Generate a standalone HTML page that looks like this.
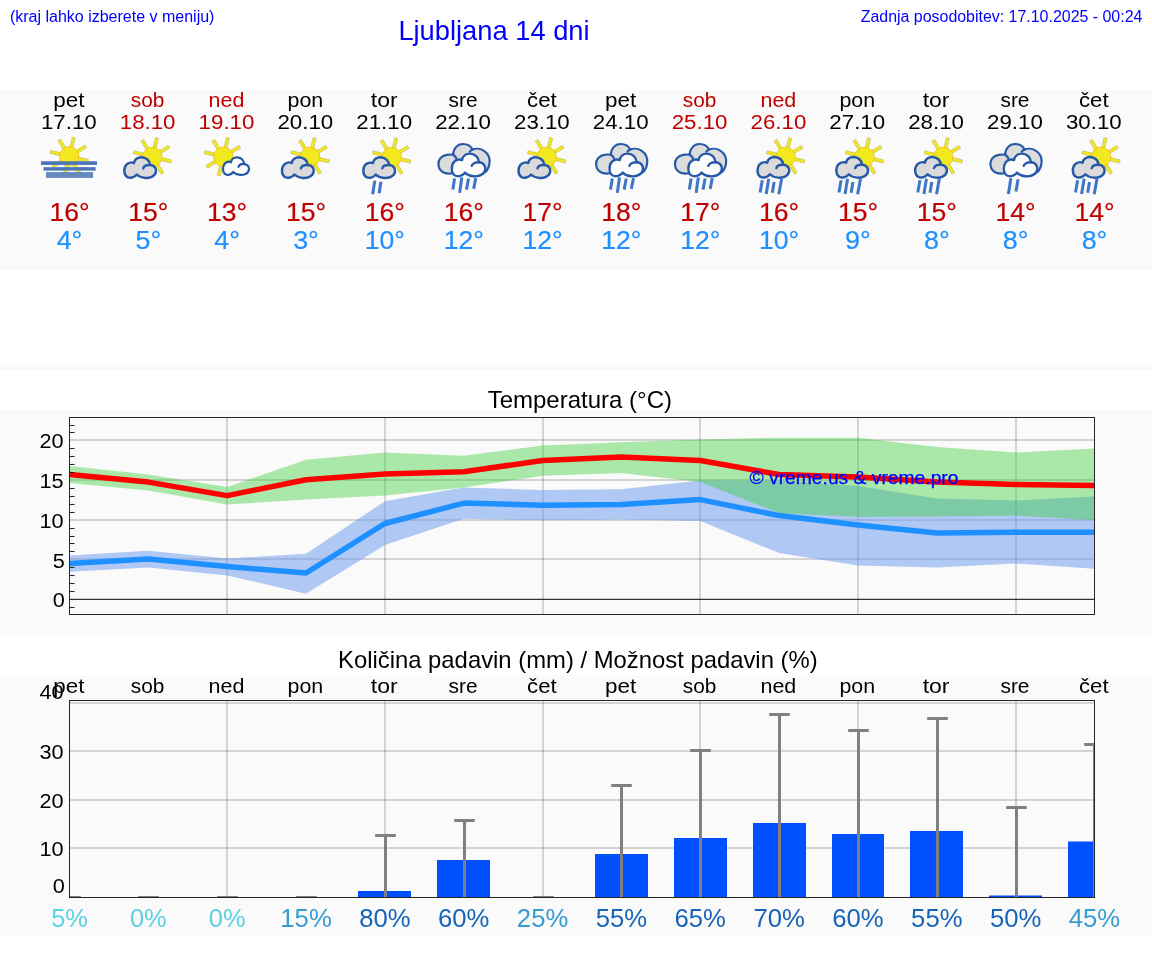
<!DOCTYPE html>
<html lang="sl"><head><meta charset="utf-8"><title>Ljubljana 14 dni</title>
<style>html,body{margin:0;padding:0;background:#fff}body{width:1152px;height:975px;overflow:hidden;font-family:"Liberation Sans",sans-serif}svg{display:block;position:absolute;left:0;top:0;will-change:transform}text{font-family:"Liberation Sans",sans-serif}.dv{font-size:19.3px}.t25{font-size:25.2px;stroke-width:.2px}.mid{text-anchor:middle}.end{text-anchor:end}</style></head><body>
<svg width="1152" height="975" viewBox="0 0 1152 975">
<defs>
<g id="i-fog"><g transform="scale(0.069444) translate(-568.80,0)"><g transform="translate(565,380)"><rect x="-23.0" y="-279.4" width="46.1" height="157.0" fill="#f1e91d" stroke="#a9a46a" stroke-width="6" transform="rotate(13.7)"/><rect x="-23.0" y="-279.4" width="46.1" height="157.0" fill="#f1e91d" stroke="#a9a46a" stroke-width="6" transform="rotate(58.7)"/><rect x="-23.0" y="-279.4" width="46.1" height="157.0" fill="#f1e91d" stroke="#a9a46a" stroke-width="6" transform="rotate(103.7)"/><rect x="-23.0" y="-279.4" width="46.1" height="157.0" fill="#f1e91d" stroke="#a9a46a" stroke-width="6" transform="rotate(148.7)"/><rect x="-23.0" y="-279.4" width="46.1" height="157.0" fill="#f1e91d" stroke="#a9a46a" stroke-width="6" transform="rotate(193.7)"/><rect x="-23.0" y="-279.4" width="46.1" height="157.0" fill="#f1e91d" stroke="#a9a46a" stroke-width="6" transform="rotate(238.7)"/><rect x="-23.0" y="-279.4" width="46.1" height="157.0" fill="#f1e91d" stroke="#a9a46a" stroke-width="6" transform="rotate(283.7)"/><rect x="-23.0" y="-279.4" width="46.1" height="157.0" fill="#f1e91d" stroke="#a9a46a" stroke-width="6" transform="rotate(328.7)"/><circle r="140.9" fill="#f1e91d" stroke="#f6ab25" stroke-width="9"/></g><rect x="158" y="450" width="807" height="53" fill="#4b77b9"/><rect x="195" y="535" width="750" height="50" fill="#4b77b9"/><rect x="236" y="612" width="668" height="72" fill="#6489bd" stroke="#4b77b9" stroke-width="9"/></g></g>
<g id="i-suncloud"><g transform="scale(0.069444) translate(-552.18,0)"><g transform="translate(610,386)"><rect x="-23.0" y="-279.4" width="46.1" height="157.0" fill="#f1e91d" stroke="#a9a46a" stroke-width="6" transform="rotate(13.7)"/><rect x="-23.0" y="-279.4" width="46.1" height="157.0" fill="#f1e91d" stroke="#a9a46a" stroke-width="6" transform="rotate(58.7)"/><rect x="-23.0" y="-279.4" width="46.1" height="157.0" fill="#f1e91d" stroke="#a9a46a" stroke-width="6" transform="rotate(103.7)"/><rect x="-23.0" y="-279.4" width="46.1" height="157.0" fill="#f1e91d" stroke="#a9a46a" stroke-width="6" transform="rotate(148.7)"/><rect x="-23.0" y="-279.4" width="46.1" height="157.0" fill="#f1e91d" stroke="#a9a46a" stroke-width="6" transform="rotate(193.7)"/><rect x="-23.0" y="-279.4" width="46.1" height="157.0" fill="#f1e91d" stroke="#a9a46a" stroke-width="6" transform="rotate(238.7)"/><rect x="-23.0" y="-279.4" width="46.1" height="157.0" fill="#f1e91d" stroke="#a9a46a" stroke-width="6" transform="rotate(283.7)"/><rect x="-23.0" y="-279.4" width="46.1" height="157.0" fill="#f1e91d" stroke="#a9a46a" stroke-width="6" transform="rotate(328.7)"/><circle r="140.9" fill="#f1e91d" stroke="#f6ab25" stroke-width="9"/></g><g transform="translate(190,370) scale(1,1) translate(-190,-370)"><path d="M 578,505 C 648,508 668,565 662,602 C 650,672 565,695 505,690 C 452,686 410,666 385,641 C 350,688 290,698 250,679 C 194,650 194,540 237,499 C 270,468 320,463 346,476 C 350,424 400,392 452,392 C 522,392 573,442 578,505 Z" fill="#dadada" stroke="#2559a8" stroke-width="35" stroke-linejoin="round"/><path d="M 478,552 C 488,522 532,502 578,505" fill="none" stroke="#2559a8" stroke-width="35" stroke-linecap="round"/></g></g></g>
<g id="i-sunsmall"><g transform="scale(0.069444) translate(-535.57,0)"><g transform="translate(480,385)"><rect x="-23.0" y="-279.4" width="46.1" height="157.0" fill="#f1e91d" stroke="#a9a46a" stroke-width="6" transform="rotate(13.7)"/><rect x="-23.0" y="-279.4" width="46.1" height="157.0" fill="#f1e91d" stroke="#a9a46a" stroke-width="6" transform="rotate(58.7)"/><rect x="-23.0" y="-279.4" width="46.1" height="157.0" fill="#f1e91d" stroke="#a9a46a" stroke-width="6" transform="rotate(103.7)"/><rect x="-23.0" y="-279.4" width="46.1" height="157.0" fill="#f1e91d" stroke="#a9a46a" stroke-width="6" transform="rotate(148.7)"/><rect x="-23.0" y="-279.4" width="46.1" height="157.0" fill="#f1e91d" stroke="#a9a46a" stroke-width="6" transform="rotate(193.7)"/><rect x="-23.0" y="-279.4" width="46.1" height="157.0" fill="#f1e91d" stroke="#a9a46a" stroke-width="6" transform="rotate(238.7)"/><rect x="-23.0" y="-279.4" width="46.1" height="157.0" fill="#f1e91d" stroke="#a9a46a" stroke-width="6" transform="rotate(283.7)"/><rect x="-23.0" y="-279.4" width="46.1" height="157.0" fill="#f1e91d" stroke="#a9a46a" stroke-width="6" transform="rotate(328.7)"/><circle r="140.9" fill="#f1e91d" stroke="#f6ab25" stroke-width="9"/></g><g transform="translate(462,375) scale(0.82,0.85) translate(-190,-370)"><path d="M 578,505 C 648,508 668,565 662,602 C 650,672 565,695 505,690 C 452,686 410,666 385,641 C 350,688 290,698 250,679 C 194,650 194,540 237,499 C 270,468 320,463 346,476 C 350,424 400,392 452,392 C 522,392 573,442 578,505 Z" fill="#fdfdfd" stroke="#2559a8" stroke-width="38" stroke-linejoin="round"/><path d="M 478,552 C 488,522 532,502 578,505" fill="none" stroke="#2559a8" stroke-width="38" stroke-linecap="round"/></g></g></g>
<g id="i-sunrain2"><g transform="scale(0.071813) translate(-555.39,0)"><g transform="translate(650,376)"><rect x="-22.3" y="-270.1" width="44.6" height="151.8" fill="#f1e91d" stroke="#a9a46a" stroke-width="6" transform="rotate(13.7)"/><rect x="-22.3" y="-270.1" width="44.6" height="151.8" fill="#f1e91d" stroke="#a9a46a" stroke-width="6" transform="rotate(58.7)"/><rect x="-22.3" y="-270.1" width="44.6" height="151.8" fill="#f1e91d" stroke="#a9a46a" stroke-width="6" transform="rotate(103.7)"/><rect x="-22.3" y="-270.1" width="44.6" height="151.8" fill="#f1e91d" stroke="#a9a46a" stroke-width="6" transform="rotate(148.7)"/><rect x="-22.3" y="-270.1" width="44.6" height="151.8" fill="#f1e91d" stroke="#a9a46a" stroke-width="6" transform="rotate(193.7)"/><rect x="-22.3" y="-270.1" width="44.6" height="151.8" fill="#f1e91d" stroke="#a9a46a" stroke-width="6" transform="rotate(238.7)"/><rect x="-22.3" y="-270.1" width="44.6" height="151.8" fill="#f1e91d" stroke="#a9a46a" stroke-width="6" transform="rotate(283.7)"/><rect x="-22.3" y="-270.1" width="44.6" height="151.8" fill="#f1e91d" stroke="#a9a46a" stroke-width="6" transform="rotate(328.7)"/><circle r="136.1" fill="#f1e91d" stroke="#f6ab25" stroke-width="9"/></g><g transform="translate(240,358) scale(0.967,0.967) translate(-190,-370)"><path d="M 578,505 C 648,508 668,565 662,602 C 650,672 565,695 505,690 C 452,686 410,666 385,641 C 350,688 290,698 250,679 C 194,650 194,540 237,499 C 270,468 320,463 346,476 C 350,424 400,392 452,392 C 522,392 573,442 578,505 Z" fill="#dadada" stroke="#2559a8" stroke-width="35" stroke-linejoin="round"/><path d="M 478,552 C 488,522 532,502 578,505" fill="none" stroke="#2559a8" stroke-width="35" stroke-linecap="round"/></g><line x1="415" y1="705" x2="385" y2="895" stroke="#3f76c6" stroke-width="42"/><line x1="500" y1="720" x2="475" y2="880" stroke="#3f76c6" stroke-width="42"/></g></g>
<g id="i-sunrain4"><g transform="scale(0.071813) translate(-544.68,0)"><g transform="translate(635,374)"><rect x="-22.3" y="-270.1" width="44.6" height="151.8" fill="#f1e91d" stroke="#a9a46a" stroke-width="6" transform="rotate(13.7)"/><rect x="-22.3" y="-270.1" width="44.6" height="151.8" fill="#f1e91d" stroke="#a9a46a" stroke-width="6" transform="rotate(58.7)"/><rect x="-22.3" y="-270.1" width="44.6" height="151.8" fill="#f1e91d" stroke="#a9a46a" stroke-width="6" transform="rotate(103.7)"/><rect x="-22.3" y="-270.1" width="44.6" height="151.8" fill="#f1e91d" stroke="#a9a46a" stroke-width="6" transform="rotate(148.7)"/><rect x="-22.3" y="-270.1" width="44.6" height="151.8" fill="#f1e91d" stroke="#a9a46a" stroke-width="6" transform="rotate(193.7)"/><rect x="-22.3" y="-270.1" width="44.6" height="151.8" fill="#f1e91d" stroke="#a9a46a" stroke-width="6" transform="rotate(238.7)"/><rect x="-22.3" y="-270.1" width="44.6" height="151.8" fill="#f1e91d" stroke="#a9a46a" stroke-width="6" transform="rotate(283.7)"/><rect x="-22.3" y="-270.1" width="44.6" height="151.8" fill="#f1e91d" stroke="#a9a46a" stroke-width="6" transform="rotate(328.7)"/><circle r="136.1" fill="#f1e91d" stroke="#f6ab25" stroke-width="9"/></g><g transform="translate(228,354) scale(0.967,0.967) translate(-190,-370)"><path d="M 578,505 C 648,508 668,565 662,602 C 650,672 565,695 505,690 C 452,686 410,666 385,641 C 350,688 290,698 250,679 C 194,650 194,540 237,499 C 270,468 320,463 346,476 C 350,424 400,392 452,392 C 522,392 573,442 578,505 Z" fill="#dadada" stroke="#2559a8" stroke-width="35" stroke-linejoin="round"/><path d="M 478,552 C 488,522 532,502 578,505" fill="none" stroke="#2559a8" stroke-width="35" stroke-linecap="round"/></g><line x1="310" y1="700" x2="280" y2="870" stroke="#3f76c6" stroke-width="42"/><line x1="400" y1="680" x2="365" y2="890" stroke="#3f76c6" stroke-width="42"/><line x1="475" y1="725" x2="450" y2="875" stroke="#3f76c6" stroke-width="42"/><line x1="580" y1="680" x2="540" y2="895" stroke="#3f76c6" stroke-width="42"/></g></g>
<g id="i-clouds4"><g transform="scale(0.071813) translate(-567.18,0)"><path d="M 420,345 C 420,260 480,195 555,195 C 620,195 670,230 690,272 C 730,255 800,255 850,290 C 910,330 935,400 925,470 C 915,550 870,600 800,612 L 450,596 C 380,612 300,610 255,570 C 205,525 200,440 245,390 C 290,345 370,335 420,345 Z" fill="#dcdcdc" stroke="#2559a8" stroke-width="30" stroke-linejoin="round"/><path d="M 420,345 C 445,360 462,380 468,405 M 690,272 C 672,278 660,288 652,300" fill="none" stroke="#2559a8" stroke-width="30" stroke-linecap="round"/><g transform="translate(385,306) scale(1.02,1.06) translate(-190,-370)"><path d="M 578,505 C 648,508 668,565 662,602 C 650,672 565,695 505,690 C 452,686 410,666 385,641 C 350,688 290,698 250,679 C 194,650 194,540 237,499 C 270,468 320,463 346,476 C 350,424 400,392 452,392 C 522,392 573,442 578,505 Z" fill="#fdfdfd" stroke="#2559a8" stroke-width="32" stroke-linejoin="round"/><path d="M 478,552 C 488,522 532,502 578,505" fill="none" stroke="#2559a8" stroke-width="32" stroke-linecap="round"/></g><line x1="440" y1="675" x2="415" y2="830" stroke="#3f76c6" stroke-width="42"/><line x1="540" y1="660" x2="510" y2="875" stroke="#3f76c6" stroke-width="42"/><line x1="635" y1="675" x2="605" y2="830" stroke="#3f76c6" stroke-width="42"/><line x1="735" y1="670" x2="705" y2="820" stroke="#3f76c6" stroke-width="42"/></g></g>
<g id="i-clouds2"><g transform="scale(0.071813) translate(-566.10,0)"><path d="M 420,345 C 420,260 480,195 555,195 C 620,195 670,230 690,272 C 730,255 800,255 850,290 C 910,330 935,400 925,470 C 915,550 870,600 800,612 L 450,596 C 380,612 300,610 255,570 C 205,525 200,440 245,390 C 290,345 370,335 420,345 Z" fill="#dcdcdc" stroke="#2559a8" stroke-width="30" stroke-linejoin="round"/><path d="M 420,345 C 445,360 462,380 468,405 M 690,272 C 672,278 660,288 652,300" fill="none" stroke="#2559a8" stroke-width="30" stroke-linecap="round"/><g transform="translate(385,306) scale(1.02,1.06) translate(-190,-370)"><path d="M 578,505 C 648,508 668,565 662,602 C 650,672 565,695 505,690 C 452,686 410,666 385,641 C 350,688 290,698 250,679 C 194,650 194,540 237,499 C 270,468 320,463 346,476 C 350,424 400,392 452,392 C 522,392 573,442 578,505 Z" fill="#fdfdfd" stroke="#2559a8" stroke-width="32" stroke-linejoin="round"/><path d="M 478,552 C 488,522 532,502 578,505" fill="none" stroke="#2559a8" stroke-width="32" stroke-linecap="round"/></g><line x1="500" y1="670" x2="465" y2="890" stroke="#3f76c6" stroke-width="42"/><line x1="600" y1="685" x2="570" y2="855" stroke="#3f76c6" stroke-width="42"/></g></g>
</defs>
<rect x="0" y="90" width="1152" height="180" fill="#fafafa"/>
<rect x="0" y="365" width="1152" height="5" fill="#fafafa"/>
<rect x="0" y="410" width="1152" height="225" fill="#fafafa"/>
<rect x="0" y="675" width="1152" height="260" fill="#fafafa"/>
<text x="9.9" y="21.7" font-size="16" fill="#0000ff">(kraj lahko izberete v meniju)</text>
<text x="494" y="39.6" font-size="27.3" fill="#0000ff" class="mid">Ljubljana 14 dni</text>
<text x="1142.4" y="21.7" font-size="16" fill="#0000ff" class="end" textLength="281.7" lengthAdjust="spacingAndGlyphs">Zadnja posodobitev: 17.10.2025 - 00:24</text>
<text x="68.80" y="106.60" class="dv mid" fill="#000" textLength="31.20" lengthAdjust="spacingAndGlyphs" >pet</text>
<text x="68.80" y="128.90" class="dv mid" fill="#000" textLength="55.75" lengthAdjust="spacingAndGlyphs" >17.10</text>
<use href="#i-fog" x="69.50" y="130"/>
<text x="69.50" y="220.90" class="t25 mid" fill="#c00000" stroke="#c00000" textLength="40.10" lengthAdjust="spacingAndGlyphs" >16°</text>
<text x="69.50" y="248.80" class="t25 mid" fill="#1e90ff" stroke="#1e90ff" textLength="25.71" lengthAdjust="spacingAndGlyphs" >4°</text>
<text x="147.65" y="106.60" class="dv mid" fill="#c00000" textLength="33.58" lengthAdjust="spacingAndGlyphs" >sob</text>
<text x="147.65" y="128.90" class="dv mid" fill="#c00000" textLength="55.75" lengthAdjust="spacingAndGlyphs" >18.10</text>
<use href="#i-suncloud" x="148.35" y="130"/>
<text x="148.35" y="220.90" class="t25 mid" fill="#c00000" stroke="#c00000" textLength="40.10" lengthAdjust="spacingAndGlyphs" >15°</text>
<text x="148.35" y="248.80" class="t25 mid" fill="#1e90ff" stroke="#1e90ff" textLength="25.71" lengthAdjust="spacingAndGlyphs" >5°</text>
<text x="226.49" y="106.60" class="dv mid" fill="#c00000" textLength="35.79" lengthAdjust="spacingAndGlyphs" >ned</text>
<text x="226.49" y="128.90" class="dv mid" fill="#c00000" textLength="55.75" lengthAdjust="spacingAndGlyphs" >19.10</text>
<use href="#i-sunsmall" x="227.19" y="130"/>
<text x="227.19" y="220.90" class="t25 mid" fill="#c00000" stroke="#c00000" textLength="40.10" lengthAdjust="spacingAndGlyphs" >13°</text>
<text x="227.19" y="248.80" class="t25 mid" fill="#1e90ff" stroke="#1e90ff" textLength="25.71" lengthAdjust="spacingAndGlyphs" >4°</text>
<text x="305.34" y="106.60" class="dv mid" fill="#000" textLength="35.73" lengthAdjust="spacingAndGlyphs" >pon</text>
<text x="305.34" y="128.90" class="dv mid" fill="#000" textLength="55.75" lengthAdjust="spacingAndGlyphs" >20.10</text>
<use href="#i-suncloud" x="306.04" y="130"/>
<text x="306.04" y="220.90" class="t25 mid" fill="#c00000" stroke="#c00000" textLength="40.10" lengthAdjust="spacingAndGlyphs" >15°</text>
<text x="306.04" y="248.80" class="t25 mid" fill="#1e90ff" stroke="#1e90ff" textLength="25.71" lengthAdjust="spacingAndGlyphs" >3°</text>
<text x="384.18" y="106.60" class="dv mid" fill="#000" textLength="26.89" lengthAdjust="spacingAndGlyphs" >tor</text>
<text x="384.18" y="128.90" class="dv mid" fill="#000" textLength="55.75" lengthAdjust="spacingAndGlyphs" >21.10</text>
<use href="#i-sunrain2" x="384.88" y="130"/>
<text x="384.88" y="220.90" class="t25 mid" fill="#c00000" stroke="#c00000" textLength="40.10" lengthAdjust="spacingAndGlyphs" >16°</text>
<text x="384.88" y="248.80" class="t25 mid" fill="#1e90ff" stroke="#1e90ff" textLength="40.10" lengthAdjust="spacingAndGlyphs" >10°</text>
<text x="463.03" y="106.60" class="dv mid" fill="#000" textLength="28.98" lengthAdjust="spacingAndGlyphs" >sre</text>
<text x="463.03" y="128.90" class="dv mid" fill="#000" textLength="55.75" lengthAdjust="spacingAndGlyphs" >22.10</text>
<use href="#i-clouds4" x="463.73" y="130"/>
<text x="463.73" y="220.90" class="t25 mid" fill="#c00000" stroke="#c00000" textLength="40.10" lengthAdjust="spacingAndGlyphs" >16°</text>
<text x="463.73" y="248.80" class="t25 mid" fill="#1e90ff" stroke="#1e90ff" textLength="40.10" lengthAdjust="spacingAndGlyphs" >12°</text>
<text x="541.88" y="106.60" class="dv mid" fill="#000" textLength="29.59" lengthAdjust="spacingAndGlyphs" >čet</text>
<text x="541.88" y="128.90" class="dv mid" fill="#000" textLength="55.75" lengthAdjust="spacingAndGlyphs" >23.10</text>
<use href="#i-suncloud" x="542.58" y="130"/>
<text x="542.58" y="220.90" class="t25 mid" fill="#c00000" stroke="#c00000" textLength="40.10" lengthAdjust="spacingAndGlyphs" >17°</text>
<text x="542.58" y="248.80" class="t25 mid" fill="#1e90ff" stroke="#1e90ff" textLength="40.10" lengthAdjust="spacingAndGlyphs" >12°</text>
<text x="620.72" y="106.60" class="dv mid" fill="#000" textLength="31.20" lengthAdjust="spacingAndGlyphs" >pet</text>
<text x="620.72" y="128.90" class="dv mid" fill="#000" textLength="55.75" lengthAdjust="spacingAndGlyphs" >24.10</text>
<use href="#i-clouds4" x="621.42" y="130"/>
<text x="621.42" y="220.90" class="t25 mid" fill="#c00000" stroke="#c00000" textLength="40.10" lengthAdjust="spacingAndGlyphs" >18°</text>
<text x="621.42" y="248.80" class="t25 mid" fill="#1e90ff" stroke="#1e90ff" textLength="40.10" lengthAdjust="spacingAndGlyphs" >12°</text>
<text x="699.57" y="106.60" class="dv mid" fill="#c00000" textLength="33.58" lengthAdjust="spacingAndGlyphs" >sob</text>
<text x="699.57" y="128.90" class="dv mid" fill="#c00000" textLength="55.75" lengthAdjust="spacingAndGlyphs" >25.10</text>
<use href="#i-clouds4" x="700.27" y="130"/>
<text x="700.27" y="220.90" class="t25 mid" fill="#c00000" stroke="#c00000" textLength="40.10" lengthAdjust="spacingAndGlyphs" >17°</text>
<text x="700.27" y="248.80" class="t25 mid" fill="#1e90ff" stroke="#1e90ff" textLength="40.10" lengthAdjust="spacingAndGlyphs" >12°</text>
<text x="778.42" y="106.60" class="dv mid" fill="#c00000" textLength="35.79" lengthAdjust="spacingAndGlyphs" >ned</text>
<text x="778.42" y="128.90" class="dv mid" fill="#c00000" textLength="55.75" lengthAdjust="spacingAndGlyphs" >26.10</text>
<use href="#i-sunrain4" x="779.12" y="130"/>
<text x="779.12" y="220.90" class="t25 mid" fill="#c00000" stroke="#c00000" textLength="40.10" lengthAdjust="spacingAndGlyphs" >16°</text>
<text x="779.12" y="248.80" class="t25 mid" fill="#1e90ff" stroke="#1e90ff" textLength="40.10" lengthAdjust="spacingAndGlyphs" >10°</text>
<text x="857.26" y="106.60" class="dv mid" fill="#000" textLength="35.73" lengthAdjust="spacingAndGlyphs" >pon</text>
<text x="857.26" y="128.90" class="dv mid" fill="#000" textLength="55.75" lengthAdjust="spacingAndGlyphs" >27.10</text>
<use href="#i-sunrain4" x="857.96" y="130"/>
<text x="857.96" y="220.90" class="t25 mid" fill="#c00000" stroke="#c00000" textLength="40.10" lengthAdjust="spacingAndGlyphs" >15°</text>
<text x="857.96" y="248.80" class="t25 mid" fill="#1e90ff" stroke="#1e90ff" textLength="25.71" lengthAdjust="spacingAndGlyphs" >9°</text>
<text x="936.11" y="106.60" class="dv mid" fill="#000" textLength="26.89" lengthAdjust="spacingAndGlyphs" >tor</text>
<text x="936.11" y="128.90" class="dv mid" fill="#000" textLength="55.75" lengthAdjust="spacingAndGlyphs" >28.10</text>
<use href="#i-sunrain4" x="936.81" y="130"/>
<text x="936.81" y="220.90" class="t25 mid" fill="#c00000" stroke="#c00000" textLength="40.10" lengthAdjust="spacingAndGlyphs" >15°</text>
<text x="936.81" y="248.80" class="t25 mid" fill="#1e90ff" stroke="#1e90ff" textLength="25.71" lengthAdjust="spacingAndGlyphs" >8°</text>
<text x="1014.95" y="106.60" class="dv mid" fill="#000" textLength="28.98" lengthAdjust="spacingAndGlyphs" >sre</text>
<text x="1014.95" y="128.90" class="dv mid" fill="#000" textLength="55.75" lengthAdjust="spacingAndGlyphs" >29.10</text>
<use href="#i-clouds2" x="1015.65" y="130"/>
<text x="1015.65" y="220.90" class="t25 mid" fill="#c00000" stroke="#c00000" textLength="40.10" lengthAdjust="spacingAndGlyphs" >14°</text>
<text x="1015.65" y="248.80" class="t25 mid" fill="#1e90ff" stroke="#1e90ff" textLength="25.71" lengthAdjust="spacingAndGlyphs" >8°</text>
<text x="1093.80" y="106.60" class="dv mid" fill="#000" textLength="29.59" lengthAdjust="spacingAndGlyphs" >čet</text>
<text x="1093.80" y="128.90" class="dv mid" fill="#000" textLength="55.75" lengthAdjust="spacingAndGlyphs" >30.10</text>
<use href="#i-sunrain4" x="1094.50" y="130"/>
<text x="1094.50" y="220.90" class="t25 mid" fill="#c00000" stroke="#c00000" textLength="40.10" lengthAdjust="spacingAndGlyphs" >14°</text>
<text x="1094.50" y="248.80" class="t25 mid" fill="#1e90ff" stroke="#1e90ff" textLength="25.71" lengthAdjust="spacingAndGlyphs" >8°</text>
<text x="579.8" y="407.5" font-size="24" fill="#000" class="mid">Temperatura (°C)</text>
<clipPath id="ct"><rect x="69.5" y="417.5" width="1025.0" height="197.0"/></clipPath>
<line x1="69.5" x2="1094.5" y1="559" y2="559" stroke="#000" stroke-opacity="0.15" stroke-width="2"/>
<line x1="69.5" x2="1094.5" y1="520" y2="520" stroke="#000" stroke-opacity="0.15" stroke-width="2"/>
<line x1="69.5" x2="1094.5" y1="480" y2="480" stroke="#000" stroke-opacity="0.15" stroke-width="2"/>
<line x1="69.5" x2="1094.5" y1="440" y2="440" stroke="#000" stroke-opacity="0.15" stroke-width="2"/>
<line x1="227" x2="227" y1="417.5" y2="614.5" stroke="#000" stroke-opacity="0.15" stroke-width="2"/>
<line x1="385" x2="385" y1="417.5" y2="614.5" stroke="#000" stroke-opacity="0.15" stroke-width="2"/>
<line x1="543" x2="543" y1="417.5" y2="614.5" stroke="#000" stroke-opacity="0.15" stroke-width="2"/>
<line x1="700" x2="700" y1="417.5" y2="614.5" stroke="#000" stroke-opacity="0.15" stroke-width="2"/>
<line x1="858" x2="858" y1="417.5" y2="614.5" stroke="#000" stroke-opacity="0.15" stroke-width="2"/>
<line x1="1016" x2="1016" y1="417.5" y2="614.5" stroke="#000" stroke-opacity="0.15" stroke-width="2"/>
<g clip-path="url(#ct)">
<polygon points="69.5,555.4 148.3,550.7 227.2,558.6 306.0,553.8 384.9,501.2 463.7,487.6 542.6,490.0 621.4,489.2 700.3,480.5 779.1,480.5 858.0,486.1 936.8,498.4 1015.7,500.4 1094.5,496.4 1094.5,568.7 1015.7,563.6 936.8,567.6 858.0,565.5 779.1,553.0 700.3,521.1 621.4,519.5 542.6,520.3 463.7,518.8 384.9,545.1 306.0,593.7 227.2,575.4 148.3,567.4 69.5,571.8" fill="#6495ed" fill-opacity="0.5"/>
<polygon points="69.5,466.1 148.3,474.5 227.2,486.9 306.0,459.7 384.9,452.6 463.7,455.8 542.6,445.4 621.4,442.2 700.3,439.4 779.1,437.7 858.0,437.7 936.8,447.0 1015.7,452.6 1094.5,448.6 1094.5,520.3 1015.7,515.6 936.8,516.4 858.0,516.7 779.1,513.2 700.3,482.1 621.4,472.9 542.6,475.7 463.7,487.6 384.9,495.6 306.0,499.6 227.2,504.4 148.3,490.4 69.5,482.9" fill="#32cd32" fill-opacity="0.4"/>
<line x1="69.5" x2="1094.5" y1="599.30" y2="599.30" stroke="#000" stroke-width="1"/>
<polyline points="69.5,563.6 148.3,558.9 227.2,566.6 306.0,573.0 384.9,523.5 463.7,503.1 542.6,505.2 621.4,504.4 700.3,499.6 779.1,515.6 858.0,524.9 936.8,533.1 1015.7,532.3 1094.5,532.3" fill="none" stroke="#1e90ff" stroke-width="5.5" stroke-linejoin="round"/>
<polyline points="69.5,474.5 148.3,482.1 227.2,495.6 306.0,479.7 384.9,474.1 463.7,471.7 542.6,460.5 621.4,456.9 700.3,460.5 779.1,474.5 858.0,476.9 936.8,482.1 1015.7,484.5 1094.5,485.5" fill="none" stroke="#ff0000" stroke-width="5.5" stroke-linejoin="round"/>
</g>
<line x1="69.5" x2="74.5" y1="607.5" y2="607.5" stroke="#222" stroke-width="1"/>
<line x1="69.5" x2="74.5" y1="591.5" y2="591.5" stroke="#222" stroke-width="1"/>
<line x1="69.5" x2="74.5" y1="583.5" y2="583.5" stroke="#222" stroke-width="1"/>
<line x1="69.5" x2="74.5" y1="575.5" y2="575.5" stroke="#222" stroke-width="1"/>
<line x1="69.5" x2="74.5" y1="567.5" y2="567.5" stroke="#222" stroke-width="1"/>
<line x1="69.5" x2="74.5" y1="551.5" y2="551.5" stroke="#222" stroke-width="1"/>
<line x1="69.5" x2="74.5" y1="543.5" y2="543.5" stroke="#222" stroke-width="1"/>
<line x1="69.5" x2="74.5" y1="536.5" y2="536.5" stroke="#222" stroke-width="1"/>
<line x1="69.5" x2="74.5" y1="528.5" y2="528.5" stroke="#222" stroke-width="1"/>
<line x1="69.5" x2="74.5" y1="512.5" y2="512.5" stroke="#222" stroke-width="1"/>
<line x1="69.5" x2="74.5" y1="504.5" y2="504.5" stroke="#222" stroke-width="1"/>
<line x1="69.5" x2="74.5" y1="496.5" y2="496.5" stroke="#222" stroke-width="1"/>
<line x1="69.5" x2="74.5" y1="488.5" y2="488.5" stroke="#222" stroke-width="1"/>
<line x1="69.5" x2="74.5" y1="472.5" y2="472.5" stroke="#222" stroke-width="1"/>
<line x1="69.5" x2="74.5" y1="464.5" y2="464.5" stroke="#222" stroke-width="1"/>
<line x1="69.5" x2="74.5" y1="456.5" y2="456.5" stroke="#222" stroke-width="1"/>
<line x1="69.5" x2="74.5" y1="448.5" y2="448.5" stroke="#222" stroke-width="1"/>
<line x1="69.5" x2="74.5" y1="432.5" y2="432.5" stroke="#222" stroke-width="1"/>
<line x1="69.5" x2="74.5" y1="425.5" y2="425.5" stroke="#222" stroke-width="1"/>
<rect x="69.5" y="417.5" width="1025.0" height="197.0" fill="none" stroke="#262626" stroke-width="1"/>
<text x="64.90" y="607.40" class="dv end" fill="#000" textLength="12.09" lengthAdjust="spacingAndGlyphs" >0</text>
<text x="64.90" y="567.50" class="dv end" fill="#000" textLength="12.09" lengthAdjust="spacingAndGlyphs" >5</text>
<text x="63.60" y="527.60" class="dv end" fill="#000" textLength="24.18" lengthAdjust="spacingAndGlyphs" >10</text>
<text x="63.60" y="487.70" class="dv end" fill="#000" textLength="24.18" lengthAdjust="spacingAndGlyphs" >15</text>
<text x="63.60" y="447.80" class="dv end" fill="#000" textLength="24.18" lengthAdjust="spacingAndGlyphs" >20</text>
<text x="749.5" y="483.7" font-size="19" fill="#0000ff" stroke="#0000ff" stroke-width="0.25" textLength="209" lengthAdjust="spacingAndGlyphs">© vreme.us &amp; vreme.pro</text>
<text x="577.8" y="667.5" font-size="24" fill="#000" class="mid" textLength="479.6" lengthAdjust="spacingAndGlyphs">Količina padavin (mm) / Možnost padavin (%)</text>
<clipPath id="cp"><rect x="69.5" y="700.5" width="1025.0" height="197.0"/></clipPath>
<line x1="69.5" x2="1094.5" y1="848" y2="848" stroke="#000" stroke-opacity="0.15" stroke-width="2"/>
<line x1="69.5" x2="1094.5" y1="800" y2="800" stroke="#000" stroke-opacity="0.15" stroke-width="2"/>
<line x1="69.5" x2="1094.5" y1="751" y2="751" stroke="#000" stroke-opacity="0.15" stroke-width="2"/>
<line x1="69.5" x2="1094.5" y1="703" y2="703" stroke="#000" stroke-opacity="0.15" stroke-width="2"/>
<line x1="227" x2="227" y1="700.5" y2="897.5" stroke="#000" stroke-opacity="0.15" stroke-width="2"/>
<line x1="385" x2="385" y1="700.5" y2="897.5" stroke="#000" stroke-opacity="0.15" stroke-width="2"/>
<line x1="543" x2="543" y1="700.5" y2="897.5" stroke="#000" stroke-opacity="0.15" stroke-width="2"/>
<line x1="700" x2="700" y1="700.5" y2="897.5" stroke="#000" stroke-opacity="0.15" stroke-width="2"/>
<line x1="858" x2="858" y1="700.5" y2="897.5" stroke="#000" stroke-opacity="0.15" stroke-width="2"/>
<line x1="1016" x2="1016" y1="700.5" y2="897.5" stroke="#000" stroke-opacity="0.15" stroke-width="2"/>
<g clip-path="url(#cp)">
<rect x="358" y="891.0" width="53" height="6.50" fill="#0050ff"/>
<rect x="437" y="860.0" width="53" height="37.50" fill="#0050ff"/>
<rect x="595" y="854.0" width="53" height="43.50" fill="#0050ff"/>
<rect x="674" y="838.0" width="53" height="59.50" fill="#0050ff"/>
<rect x="753" y="823.0" width="53" height="74.50" fill="#0050ff"/>
<rect x="832" y="834.0" width="52" height="63.50" fill="#0050ff"/>
<rect x="910" y="831.0" width="53" height="66.50" fill="#0050ff"/>
<rect x="989" y="895.5" width="53" height="2.00" fill="#0050ff"/>
<rect x="1068" y="841.5" width="53" height="56.00" fill="#0050ff"/>
<line x1="70.5" x2="70.5" y1="897.5" y2="897.5" stroke="#808080" stroke-width="3"/>
<line x1="60.2" x2="80.8" y1="897.5" y2="897.5" stroke="#808080" stroke-width="3"/>
<line x1="148.5" x2="148.5" y1="897.5" y2="897.5" stroke="#808080" stroke-width="3"/>
<line x1="138.2" x2="158.8" y1="897.5" y2="897.5" stroke="#808080" stroke-width="3"/>
<line x1="227.5" x2="227.5" y1="897.5" y2="897.5" stroke="#808080" stroke-width="3"/>
<line x1="217.2" x2="237.8" y1="897.5" y2="897.5" stroke="#808080" stroke-width="3"/>
<line x1="306.5" x2="306.5" y1="897.5" y2="897.5" stroke="#808080" stroke-width="3"/>
<line x1="296.2" x2="316.8" y1="897.5" y2="897.5" stroke="#808080" stroke-width="3"/>
<line x1="385.5" x2="385.5" y1="835.5" y2="897.5" stroke="#808080" stroke-width="3"/>
<line x1="375.2" x2="395.8" y1="835.5" y2="835.5" stroke="#808080" stroke-width="3"/>
<line x1="464.5" x2="464.5" y1="820.5" y2="897.5" stroke="#808080" stroke-width="3"/>
<line x1="454.2" x2="474.8" y1="820.5" y2="820.5" stroke="#808080" stroke-width="3"/>
<line x1="543.5" x2="543.5" y1="897.5" y2="897.5" stroke="#808080" stroke-width="3"/>
<line x1="533.2" x2="553.8" y1="897.5" y2="897.5" stroke="#808080" stroke-width="3"/>
<line x1="621.5" x2="621.5" y1="785.5" y2="897.5" stroke="#808080" stroke-width="3"/>
<line x1="611.2" x2="631.8" y1="785.5" y2="785.5" stroke="#808080" stroke-width="3"/>
<line x1="700.5" x2="700.5" y1="750.5" y2="897.5" stroke="#808080" stroke-width="3"/>
<line x1="690.2" x2="710.8" y1="750.5" y2="750.5" stroke="#808080" stroke-width="3"/>
<line x1="779.5" x2="779.5" y1="714.5" y2="897.5" stroke="#808080" stroke-width="3"/>
<line x1="769.2" x2="789.8" y1="714.5" y2="714.5" stroke="#808080" stroke-width="3"/>
<line x1="858.5" x2="858.5" y1="730.5" y2="897.5" stroke="#808080" stroke-width="3"/>
<line x1="848.2" x2="868.8" y1="730.5" y2="730.5" stroke="#808080" stroke-width="3"/>
<line x1="937.5" x2="937.5" y1="718.5" y2="897.5" stroke="#808080" stroke-width="3"/>
<line x1="927.2" x2="947.8" y1="718.5" y2="718.5" stroke="#808080" stroke-width="3"/>
<line x1="1016.5" x2="1016.5" y1="807.5" y2="897.5" stroke="#808080" stroke-width="3"/>
<line x1="1006.2" x2="1026.8" y1="807.5" y2="807.5" stroke="#808080" stroke-width="3"/>
<line x1="1094.5" x2="1094.5" y1="744.5" y2="897.5" stroke="#808080" stroke-width="3"/>
<line x1="1084.2" x2="1104.8" y1="744.5" y2="744.5" stroke="#808080" stroke-width="3"/>
</g>
<rect x="69.5" y="700.5" width="1025.0" height="197.0" fill="none" stroke="#262626" stroke-width="1"/>
<text x="63.60" y="698.60" class="dv end" fill="#000" textLength="24.18" lengthAdjust="spacingAndGlyphs" >40</text>
<text x="63.60" y="758.60" class="dv end" fill="#000" textLength="24.18" lengthAdjust="spacingAndGlyphs" >30</text>
<text x="63.60" y="808.00" class="dv end" fill="#000" textLength="24.18" lengthAdjust="spacingAndGlyphs" >20</text>
<text x="63.60" y="855.90" class="dv end" fill="#000" textLength="24.18" lengthAdjust="spacingAndGlyphs" >10</text>
<text x="64.90" y="892.50" class="dv end" fill="#000" textLength="12.09" lengthAdjust="spacingAndGlyphs" >0</text>
<text x="68.80" y="693.00" class="dv mid" fill="#000" textLength="31.20" lengthAdjust="spacingAndGlyphs" >pet</text>
<text x="147.65" y="693.00" class="dv mid" fill="#000" textLength="33.58" lengthAdjust="spacingAndGlyphs" >sob</text>
<text x="226.49" y="693.00" class="dv mid" fill="#000" textLength="35.79" lengthAdjust="spacingAndGlyphs" >ned</text>
<text x="305.34" y="693.00" class="dv mid" fill="#000" textLength="35.73" lengthAdjust="spacingAndGlyphs" >pon</text>
<text x="384.18" y="693.00" class="dv mid" fill="#000" textLength="26.89" lengthAdjust="spacingAndGlyphs" >tor</text>
<text x="463.03" y="693.00" class="dv mid" fill="#000" textLength="28.98" lengthAdjust="spacingAndGlyphs" >sre</text>
<text x="541.88" y="693.00" class="dv mid" fill="#000" textLength="29.59" lengthAdjust="spacingAndGlyphs" >čet</text>
<text x="620.72" y="693.00" class="dv mid" fill="#000" textLength="31.20" lengthAdjust="spacingAndGlyphs" >pet</text>
<text x="699.57" y="693.00" class="dv mid" fill="#000" textLength="33.58" lengthAdjust="spacingAndGlyphs" >sob</text>
<text x="778.42" y="693.00" class="dv mid" fill="#000" textLength="35.79" lengthAdjust="spacingAndGlyphs" >ned</text>
<text x="857.26" y="693.00" class="dv mid" fill="#000" textLength="35.73" lengthAdjust="spacingAndGlyphs" >pon</text>
<text x="936.11" y="693.00" class="dv mid" fill="#000" textLength="26.89" lengthAdjust="spacingAndGlyphs" >tor</text>
<text x="1014.95" y="693.00" class="dv mid" fill="#000" textLength="28.98" lengthAdjust="spacingAndGlyphs" >sre</text>
<text x="1093.80" y="693.00" class="dv mid" fill="#000" textLength="29.59" lengthAdjust="spacingAndGlyphs" >čet</text>
<text x="69.50" y="926.90" class="t25 mid" fill="#5bd1e2" textLength="36.69" lengthAdjust="spacingAndGlyphs" >5%</text>
<text x="148.35" y="926.90" class="t25 mid" fill="#5bd1e2" textLength="36.69" lengthAdjust="spacingAndGlyphs" >0%</text>
<text x="227.19" y="926.90" class="t25 mid" fill="#5bd1e2" textLength="36.69" lengthAdjust="spacingAndGlyphs" >0%</text>
<text x="306.04" y="926.90" class="t25 mid" fill="#379bd3" textLength="51.40" lengthAdjust="spacingAndGlyphs" >15%</text>
<text x="384.88" y="926.90" class="t25 mid" fill="#1564b7" textLength="51.40" lengthAdjust="spacingAndGlyphs" >80%</text>
<text x="463.73" y="926.90" class="t25 mid" fill="#1564b7" textLength="51.40" lengthAdjust="spacingAndGlyphs" >60%</text>
<text x="542.58" y="926.90" class="t25 mid" fill="#379bd3" textLength="51.40" lengthAdjust="spacingAndGlyphs" >25%</text>
<text x="621.42" y="926.90" class="t25 mid" fill="#1564b7" textLength="51.40" lengthAdjust="spacingAndGlyphs" >55%</text>
<text x="700.27" y="926.90" class="t25 mid" fill="#1564b7" textLength="51.40" lengthAdjust="spacingAndGlyphs" >65%</text>
<text x="779.12" y="926.90" class="t25 mid" fill="#1564b7" textLength="51.40" lengthAdjust="spacingAndGlyphs" >70%</text>
<text x="857.96" y="926.90" class="t25 mid" fill="#1564b7" textLength="51.40" lengthAdjust="spacingAndGlyphs" >60%</text>
<text x="936.81" y="926.90" class="t25 mid" fill="#1564b7" textLength="51.40" lengthAdjust="spacingAndGlyphs" >55%</text>
<text x="1015.65" y="926.90" class="t25 mid" fill="#1564b7" textLength="51.40" lengthAdjust="spacingAndGlyphs" >50%</text>
<text x="1094.50" y="926.90" class="t25 mid" fill="#379bd3" textLength="51.40" lengthAdjust="spacingAndGlyphs" >45%</text>
</svg></body></html>
